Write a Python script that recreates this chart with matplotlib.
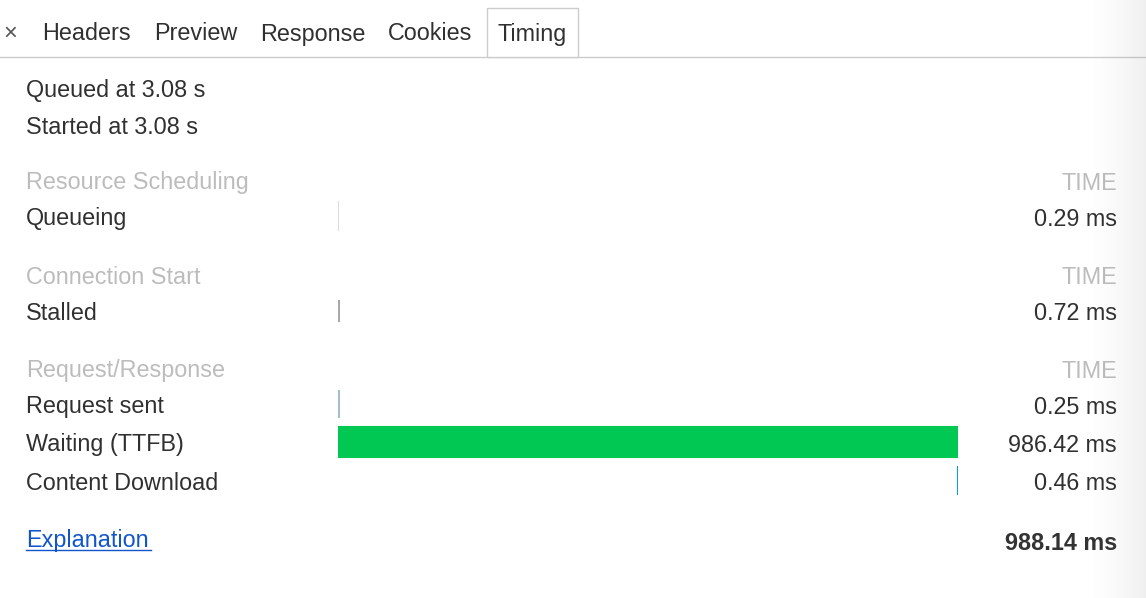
import numpy as np
import matplotlib.pyplot as plt
from matplotlib.patches import Rectangle

plt.rcParams['font.family'] = ['Liberation Sans', 'DejaVu Sans']

tabs = ['Headers', 'Preview', 'Response', 'Cookies', 'Timing']
tab_x = [42, 154, 260, 388, 497]
sections = ['Resource Scheduling', 'Connection Start', 'Request/Response']
section_y = [180, 274, 368]
phases = ['Queueing', 'Stalled', 'Request sent', 'Waiting (TTFB)', 'Content Download']
phase_y = [216, 311, 404, 442, 480]
phase_ms = [0.29, 0.72, 0.25, 986.42, 0.46]
phase_colors = ['#dddddd', '#a8a8a8', '#a9bcca', '#00c853', '#0d9be3']
bar_heights = [30, 20, 28, 30, 29]
total_ms = 988.14

fig = plt.figure(figsize=(11.46, 5.98), dpi=100)
ax = fig.add_axes([0, 0, 1, 1])
ax.set_xlim(0, 1146)
ax.set_ylim(598, 0)
ax.axis('off')

fs = 16.8
dy = 3
gray_txt = '#bcbcbc'
dark = '#303030'

# tab strip
ax.text(10, 31 + dy, '×', fontsize=17, color='#555555', va='center', ha='center')
for name, x in zip(tabs, tab_x):
    ax.text(x, 31 + dy, name, fontsize=fs, color=dark, va='center')
ax.plot([0, 1146], [57, 57], color='#cccccc', lw=1)
ax.add_patch(Rectangle((487, 8), 91, 49, fc='white', ec='#cccccc', lw=1, zorder=3))
ax.text(497, 31 + dy, 'Timing', fontsize=fs, color=dark, va='center', zorder=4)

ax.text(26, 88 + dy, 'Queued at 3.08 s', fontsize=fs, color=dark, va='center')
ax.text(26, 124 + dy, 'Started at 3.08 s', fontsize=fs, color=dark, va='center')

for s, y in zip(sections, section_y):
    ax.text(26, y + dy, s, fontsize=fs, color=gray_txt, va='center')
    ax.text(1117, y + dy, 'TIME', fontsize=fs, color=gray_txt, va='center', ha='right')

for p, y, ms in zip(phases, phase_y, phase_ms):
    ax.text(26, y + dy, p, fontsize=fs, color=dark, va='center')
    ax.text(1117, y + dy, f'{ms:.2f} ms', fontsize=fs, color=dark, va='center', ha='right')

ax.text(26, 538 + dy, 'Explanation', fontsize=fs, color='#1155cc', va='center')
ax.plot([26, 151], [550, 550], color='#1155cc', lw=1)
ax.text(1117, 540 + dy, f'{total_ms:.2f} ms', fontsize=fs, color='#333333',
        va='center', ha='right', fontweight='bold')

# right edge shadow (translucent)
shade = np.zeros((1, 60, 4))
shade[..., :3] = 0.5
shade[0, :, 3] = np.linspace(0, 0.12, 60) ** 1.5 / 0.12 ** 0.5
ax.imshow(shade, extent=(1086, 1146, 598, 0), aspect='auto', zorder=5)

# waterfall bars
bx = fig.add_axes([338 / 1146, 0, 620 / 1146, 1])
bx.set_xlim(0, total_ms)
bx.set_ylim(598, 0)
bx.axis('off')
bx.patch.set_alpha(0)
starts = np.concatenate([[0], np.cumsum(phase_ms)[:-1]])
for s, w, y, c, h in zip(starts, phase_ms, phase_y, phase_colors, bar_heights):
    bx.barh(y, w, left=s, height=h, color=c, edgecolor=c, linewidth=1.5)

fig.savefig('out.png', dpi=100)
